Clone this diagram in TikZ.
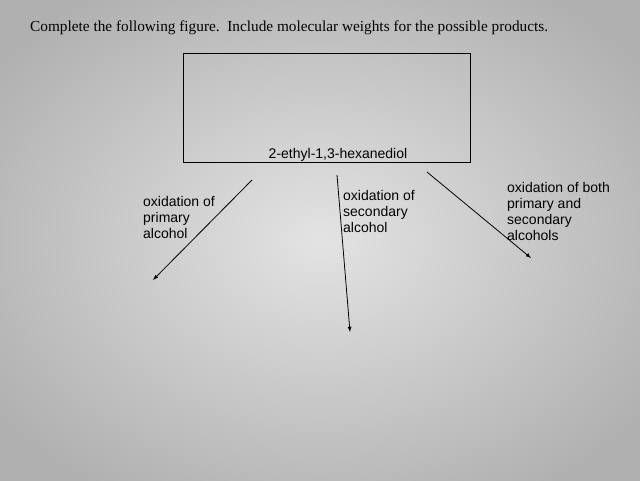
\documentclass[tikz,border=0pt]{standalone}
\usepackage{fontspec}
\setmainfont{Liberation Serif}
\setsansfont{Liberation Sans}
\usetikzlibrary{positioning}

\begin{document}
\begin{tikzpicture}[x=1pt, y=-1pt]
  \tikzstyle{lbl}=[font=\sffamily\fontsize{14}{16}\selectfont, align=left, inner sep=0pt]
  \tikzstyle{arr}=[thick, -latex]
  % paper
  \useasboundingbox (0,0) rectangle (640,480);
  \shade [inner color=gray!22, outer color=gray!62] (-80,-60) rectangle (720,540);
  % task line
  \node (task) [anchor=west, inner sep=0pt, font=\fontsize{15.3}{18}\selectfont] at (30,28)
    {Complete the following figure.\ \ Include molecular weights for the possible products.};
  % box for the structure
  \draw [thick] (183,53) rectangle (470,162);
  \node (diol) [lbl, anchor=south] at (338,162) {2-ethyl-1,3-hexanediol};
  % arrow ends
  \coordinate (l0) at (252,180);
  \coordinate (l1) at (153,280);
  \coordinate (m0) at (337,175);
  \coordinate (m1) at (350,332);
  \coordinate (r0) at (427,172);
  \coordinate (r1) at (531,258);
  \draw [arr] (l0) -- (l1);
  \draw [arr] (m0) -- (m1);
  \draw [arr] (r0) -- (r1);
  % labels
  \node (prim) [lbl, anchor=north west] at (143,196) {oxidation of\\primary\\alcohol};
  \node (sec) [lbl, anchor=north west] at (343,190) {oxidation of\\secondary\\alcohol};
  \node (both) [lbl, anchor=north west] at (507,182) {oxidation of both\\primary and\\secondary\\alcohols};
\end{tikzpicture}
\end{document}
